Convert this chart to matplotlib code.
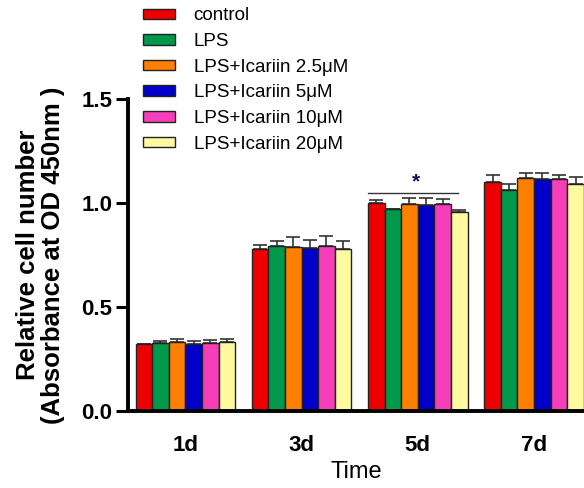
import numpy as np
import matplotlib.pyplot as plt

plt.rcParams['font.family'] = ['Liberation Sans', 'DejaVu Sans']

days = ['1d', '3d', '5d', '7d']
groups = ['control', 'LPS', 'LPS+Icariin 2.5μM', 'LPS+Icariin 5μM',
          'LPS+Icariin 10μM', 'LPS+Icariin 20μM']
colors = ['#ee0000', '#00984a', '#ff7f00', '#0000c8', '#f53fb8', '#fff9a0']

# mean values per group, one entry per day
control = [0.320, 0.777, 1.000, 1.102]
lps = [0.325, 0.792, 0.970, 1.061]
ica25 = [0.330, 0.787, 0.994, 1.119]
ica5 = [0.324, 0.782, 0.989, 1.114]
ica10 = [0.328, 0.792, 0.994, 1.114]
ica20 = [0.330, 0.777, 0.955, 1.090]

# upper error (SD)
control_err = [0.003, 0.020, 0.016, 0.033]
lps_err = [0.013, 0.024, 0.002, 0.030]
ica25_err = [0.016, 0.048, 0.032, 0.024]
ica5_err = [0.011, 0.040, 0.037, 0.029]
ica10_err = [0.012, 0.048, 0.027, 0.019]
ica20_err = [0.016, 0.040, 0.011, 0.036]

means = [control, lps, ica25, ica5, ica10, ica20]
errs = [control_err, lps_err, ica25_err, ica5_err, ica10_err, ica20_err]

fig = plt.figure(figsize=(5.84, 4.88), dpi=100)
ax = fig.add_axes([0.219, 0.158, 0.781, 0.639])

x = np.arange(len(days))
w = 1 / 7
handles = []
for i in range(len(groups)):
    pos = x - 2.5 * w + i * w
    b = ax.bar(pos, means[i], w, color=colors[i], edgecolor='#222222',
               linewidth=1, label=groups[i], zorder=2)
    ax.errorbar(pos, means[i], yerr=[np.zeros(len(days)), errs[i]],
                fmt='none', ecolor='#333333', elinewidth=1.2,
                capsize=5, capthick=1.2, zorder=1)
    handles.append(b)

# significance mark over 5d
ax.plot([2 - 3 * w, 2 + 2.4 * w], [1.047, 1.047], color='#333333', lw=1)
ax.text(2 - 0.1 * w, 1.055, '*', ha='center', va='bottom',
        fontsize=15, fontweight='bold', color='#10104a')

ax.set_xlim(-0.494, 3.43)
ax.set_ylim(0, 1.5)
ax.set_yticks([0, 0.5, 1.0, 1.5])
ax.set_yticklabels(['0.0', '0.5', '1.0', '1.5'])
ax.set_xticks(x)
ax.set_xticklabels(days)
for lab in ax.get_xticklabels() + ax.get_yticklabels():
    lab.set_fontweight('bold')
    lab.set_fontsize(16)
ax.tick_params(axis='y', length=9, width=2.2, pad=2)
ax.tick_params(axis='x', length=0, pad=17)

for s in ['top', 'right']:
    ax.spines[s].set_visible(False)
for s in ['left', 'bottom']:
    ax.spines[s].set_linewidth(2.8)

ax.set_ylabel('Relative cell number\n(Absorbance at OD 450nm )',
              fontsize=18.5, fontweight='bold', linespacing=1.05, labelpad=12)
ax.set_xlabel('Time', fontsize=17, labelpad=4)

fig.legend(handles=handles, loc='upper left', bbox_to_anchor=(0.232, 1.0),
           borderaxespad=0, frameon=False, fontsize=13.5, handlelength=1.7,
           handleheight=0.5, handletextpad=1.0, labelspacing=0.46)

fig.savefig('out.png', dpi=100)
